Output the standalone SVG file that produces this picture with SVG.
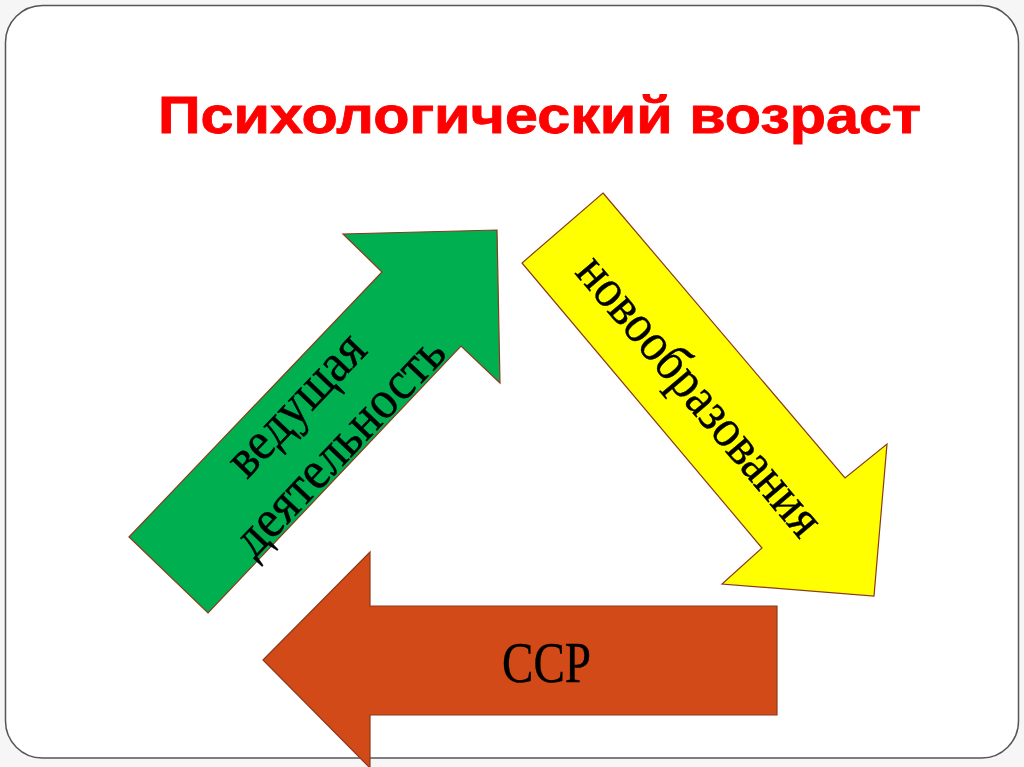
<svg xmlns="http://www.w3.org/2000/svg" width="1024" height="767" viewBox="0 0 1024 767">
<style>
.arrow{stroke:#8a3a1c;stroke-width:1.2;stroke-linejoin:miter}
.lbl{font-family:"Liberation Serif","Times New Roman",serif;fill:#000;stroke:#000;stroke-width:0.4;text-anchor:middle}
.title{font-family:"Liberation Sans",Arial,sans-serif;font-weight:bold;fill:#ff0000;stroke:#ff0000;stroke-width:0.8;text-anchor:middle}
</style>
<rect x="0" y="0" width="1024" height="767" fill="#f6f6f6"/>
<rect id="frame" x="5.5" y="5.5" width="1013" height="752.5" rx="37" ry="37" fill="#ffffff" stroke="#555555" stroke-width="1.5"/>
<g id="title">
<text class="title" x="539.5" y="133" font-size="52" textLength="763" lengthAdjust="spacingAndGlyphs">Психологический возраст</text>
</g>
<g id="connectors">
<g id="green-arrow">
<polygon class="arrow" fill="#00b050" points="129,537 382,272 343,234 497,230 500,383 461,346 208,613"/>
<g transform="translate(319.5,427) rotate(-46.4)">
<text class="lbl" x="0" y="-16" font-size="54" textLength="177" lengthAdjust="spacingAndGlyphs">ведущая</text>
<text class="lbl" x="0" y="44" font-size="54" textLength="282" lengthAdjust="spacingAndGlyphs">деятельность</text>
</g>
</g>
<g id="yellow-arrow">
<polygon class="arrow" fill="#ffff00" points="603,193 845,478 887,444 874,596 722,584 762,548 522,263"/>
<g transform="translate(697,398) rotate(49.8)">
<text class="lbl" x="0" y="13" font-size="54" textLength="350" lengthAdjust="spacingAndGlyphs">новообразования</text>
</g>
</g>
<g id="orange-arrow">
<polygon class="arrow" fill="#d24a17" points="263,660 370,552 370,606 777,606 777,715 370,715 370,768"/>
<text class="lbl" x="546.5" y="681.7" font-size="58" textLength="89" lengthAdjust="spacingAndGlyphs">ССР</text>
</g>
</g>
</svg>
